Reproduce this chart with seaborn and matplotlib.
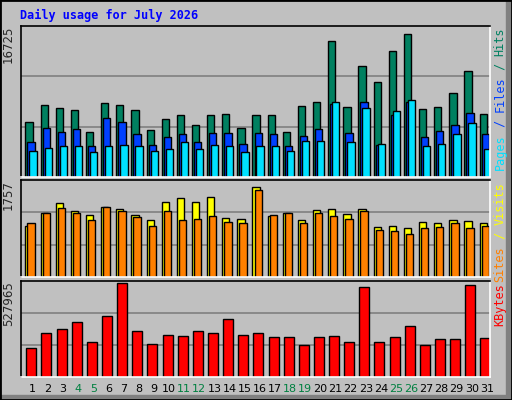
import numpy as np, pandas as pd
import matplotlib
matplotlib.use("Agg")
import matplotlib.pyplot as plt
import seaborn as sns
from matplotlib.patches import Rectangle

days = list(range(1, 32))
hits = [6300,8190,7860,7630,5090,8400,8190,7570,5300,6560,7000,5890,7000,7110,5520,7000,7000,5090,8050,8480,15520,7960,12630,10760,14300,16280,7700,7960,9500,12000,7150]
files = [4020,5570,5120,5460,3470,6670,6220,4900,3680,4570,4900,4020,5010,5010,3800,5010,4900,3470,4680,5460,8300,5010,8490,3680,7000,8530,4570,5230,5890,7330,4900]
pages = [2910,3350,3580,3580,2800,3470,3680,3470,2910,3130,4020,3130,3680,3470,2800,3580,3470,2910,4130,4130,8530,4020,7810,3800,7480,8810,3580,3800,4900,6110,3240]
sites = [970,1210,1390,1240,1170,1320,1290,1170,1080,1410,1490,1410,1500,1120,1100,1700,1150,1210,1080,1260,1290,1190,1290,950,970,930,1030,1010,1080,1050,1010]
visits = [1010,1210,1300,1210,1080,1320,1240,1130,970,1240,1080,1100,1150,1040,1010,1630,1170,1210,1010,1210,1150,1100,1240,880,860,810,930,950,1010,930,970]
kbytes = [164000,250000,273000,308000,198000,343000,528000,262000,187000,239000,233000,262000,250000,325000,239000,250000,227000,227000,181000,227000,233000,198000,505000,198000,227000,289000,181000,216000,216000,516000,221000]
max_hits, max_sites, max_kb = 16725, 1757, 527965
weekend = {4,5,11,12,18,19,25,26}

BG = "#c0c0c0"
sns.set_theme(style="white", rc={"axes.facecolor": BG, "figure.facecolor": BG})
plt.rcParams['font.family'] = ['DejaVu Sans Mono', 'DejaVu Sans']

fig = plt.figure(figsize=(5.12, 4.0), dpi=100)
W, H = 512, 400
fig.patches.append(Rectangle((0, 0), 1, 1, transform=fig.transFigure, fill=False, ec="black", lw=2))
fig.patches.append(Rectangle((506/W, 0), 6/W, 1, transform=fig.transFigure, color="#808080", zorder=0))
fig.patches.append(Rectangle((0, 0), 1, 5/H, transform=fig.transFigure, color="#808080", zorder=0))

def mkax(top, bottom):
    return fig.add_axes([20.7/W, 1 - bottom/H, (490 - 20.7)/W, (bottom - top)/H])

def style(ax, ymax, lbl):
    ax.set_xlim(0, 31)
    ax.set_ylim(0, ymax)
    for f in (1/3, 2/3):
        ax.axhline(ymax * f, color="#808080", lw=1.2, zorder=0)
    ax.set_xticks([]); ax.set_yticks([])
    ax.set_xlabel(""); ax.set_ylabel("")
    for s in ("left", "top"):
        ax.spines[s].set_color("black")
    for s in ("right", "bottom"):
        ax.spines[s].set_color("white")
    for s in ax.spines.values():
        s.set_linewidth(1.2)
    ax.text(-0.012, 1.0, lbl, transform=ax.transAxes, rotation=90, ha="right", va="top", fontsize=8.5,
            family="DejaVu Sans")
    if ax.get_legend():
        ax.get_legend().remove()

def bars(ax, vals, center, width, color):
    df = pd.DataFrame({"x": [d - 1 + center for d in days], "y": vals})
    sns.barplot(data=df, x="x", y="y", native_scale=True, width=width, color=color,
                edgecolor="black", linewidth=1.0, saturation=1, ax=ax)

ax1 = mkax(25.5, 177)
bars(ax1, hits, 0.55, 0.48, "#008060")
bars(ax1, files, 0.685, 0.48, "#0040ff")
bars(ax1, pages, 0.815, 0.48, "#00e0ff")
style(ax1, max_hits * 1.03, "16725")

ax2 = mkax(180, 277)
bars(ax2, sites, 0.55, 0.48, "#ffff00")
bars(ax2, visits, 0.685, 0.48, "#ff8000")
style(ax2, max_sites * 1.04, "1757")

ax3 = mkax(281, 377)
bars(ax3, kbytes, 0.70, 0.66, "#ff0000")
style(ax3, max_kb * 1.025, "527965")
for d in days:
    ax3.text(d - 1 + 0.8, -0.07, str(d), transform=ax3.get_xaxis_transform(), ha="center", va="top",
             fontsize=8, color="#008040" if d in weekend else "black", family="DejaVu Sans")

fig.text(20/W, 1 - 15/H, "Daily usage for July 2026", color="#0000ff", fontweight="bold",
         fontsize=8.5, ha="left", va="center")

def rlabel(y_top, parts):
    x = 500 / W
    cur = 1 - y_top / H
    for t, c in parts[::-1]:
        tt = fig.text(x, cur, t, rotation=90, ha="center", va="top", color=c, fontsize=8.5)
        fig.canvas.draw()
        bb = tt.get_window_extent()
        cur -= bb.height / H

rlabel(27, [("Pages", "#00e0ff"), (" / ", "#0040ff"), ("Files", "#0040ff"), (" / ", "#008060"), ("Hits", "#008060")])
rlabel(182, [("Sites", "#ff8000"), (" / ", "#ffff00"), ("Visits", "#ffff00")])
rlabel(283, [("KBytes", "#ff0000")])

fig.savefig("out.png", dpi=100)
